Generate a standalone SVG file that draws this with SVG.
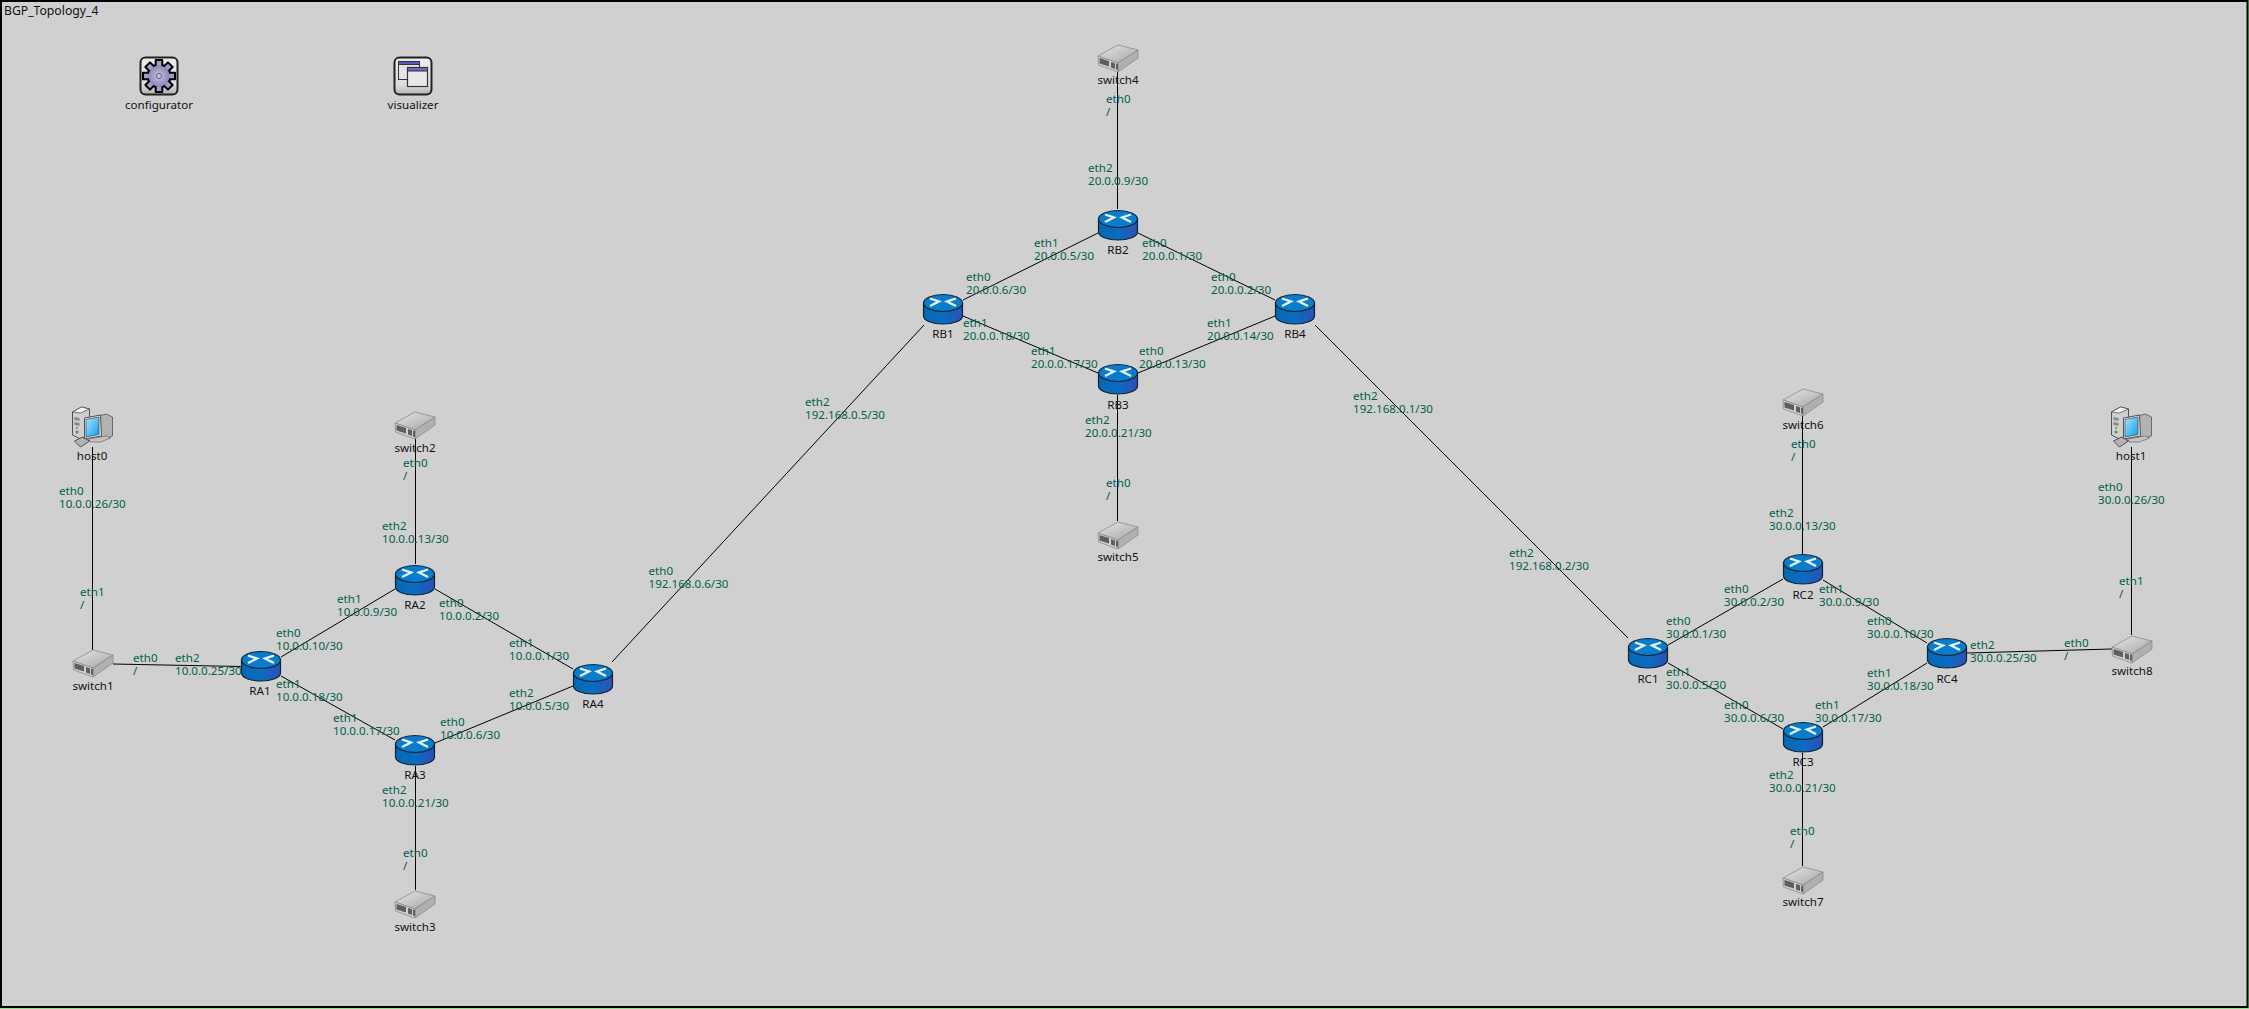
<svg xmlns="http://www.w3.org/2000/svg" width="2249" height="1009" viewBox="0 0 2249 1009">
<style>
text{font-family:"Noto Sans","DejaVu Sans",sans-serif;font-size:11.6px}
.n{fill:#111;text-anchor:middle}
.l{fill:#00604a}
#links line{stroke:#000;stroke-width:1}
</style>
<defs>
<linearGradient id="rb" x1="0" x2="1" y1="0" y2="0"><stop offset="0" stop-color="#0668b4"/><stop offset=".5" stop-color="#0a6cc0"/><stop offset="1" stop-color="#2d50b8"/></linearGradient>
<linearGradient id="sw" x1="0" x2="1" y1="0" y2="1"><stop offset="0" stop-color="#e8e8e8"/><stop offset="1" stop-color="#a4a4a4"/></linearGradient>
<linearGradient id="ic" x1="0" x2="0" y1="0" y2="1"><stop offset="0" stop-color="#ececec"/><stop offset=".75" stop-color="#dcdcdc"/><stop offset="1" stop-color="#b0b0b0"/></linearGradient>
<linearGradient id="scr" x1="0" x2="1" y1="0" y2="1"><stop offset="0" stop-color="#a8e4ff"/><stop offset="1" stop-color="#0c9ee8"/></linearGradient>
<radialGradient id="gr"><stop offset="0" stop-color="#c4c2e4"/><stop offset="1" stop-color="#8a88b8"/></radialGradient>
<g id="router">
<path d="M-19.500-6V7C-19.500 11.500-10.500 15 0 15S19.500 11.500 19.500 7V-6Z" fill="url(#rb)" stroke="#10242e" stroke-width="1.200"/>
<ellipse cx="0" cy="-6" rx="19.500" ry="8.500" fill="#0a7ccc" stroke="#10242e" stroke-width="1.200"/>
<path d="M-13-10.500-4-7.500-13-3M13-10.500 4-7.500 13-3" fill="none" stroke="#e8f4fc" stroke-width="2.300"/>
</g>
<g id="switch">
<path d="M-20-2 0-13 20-8 0 5Z" fill="url(#sw)" stroke="#8a8a8a" stroke-width=".8"/>
<path d="M0 5 20-8V0L0 14Z" fill="#b0b0b0" stroke="#8a8a8a" stroke-width=".8"/>
<path d="M-20-2 0 5V14L-19.500 7Z" fill="#cfcfcf" stroke="#8a8a8a" stroke-width=".8"/>
<path d="M-18.500 0-9 3V8.500L-18.500 5.500ZM-7 4-3 5.200V11L-7 9.500ZM-2 5.500 0 6V12L-2 11.400Z" fill="#5e5e5e"/>
</g>
<g id="host">
<path d="M6-11 14-13 20-10V9L12 12 6 10Z" fill="#b2b2b2" stroke="#555" stroke-width=".8"/>
<path d="M-20-15-11-20-3-18V8L-12 12-20 8Z" fill="#cfcfcf" stroke="#444" stroke-width=".9"/>
<path d="M-20-15-11-20-3-18-12-14Z" fill="#f2f2f2" stroke="#444" stroke-width=".7"/>
<path d="M-18-10-13-9V-6L-18-7ZM-18-5-13-4V-1L-18-2Z" fill="#8a8a8a"/>
<circle cx="-15.500" cy="5" r="1.500" fill="#2fa84a"/>
<circle cx="-15.500" cy="1" r="1" fill="#c86a2a"/>
<path d="M-8-9 8-12 9 9-8 12Z" fill="#e2e2e2" stroke="#444" stroke-width=".9"/>
<path d="M-6.500-7.500 6.500-10V7.500L-6.500 10Z" fill="url(#scr)" stroke="#333" stroke-width=".6"/>
<path d="M-4 12 14 9 18 11 8 15-2 15Z" fill="#c4c4c4" stroke="#666" stroke-width=".7"/>
<path d="M-18 14-10 10-3 14-12 20Z" fill="#b4b4b4" stroke="#333" stroke-width=".8"/>
</g>
<rect id="tooth" x="-3.300" y="-16" width="6.600" height="7" fill="#a09ecb" stroke="#000" stroke-width="2" stroke-linejoin="round"/>
<g id="gear">
<circle r="11.500" fill="#a09ecb" stroke="#000" stroke-width="2"/>
<use href="#tooth"/><use href="#tooth" transform="rotate(45)"/><use href="#tooth" transform="rotate(90)"/><use href="#tooth" transform="rotate(135)"/><use href="#tooth" transform="rotate(180)"/><use href="#tooth" transform="rotate(225)"/><use href="#tooth" transform="rotate(270)"/><use href="#tooth" transform="rotate(315)"/>
<circle r="10.500" fill="url(#gr)"/>
<circle r="2.500" fill="#c8c8d8" stroke="#666" stroke-width="1"/>
</g>
</defs>
<rect x="0" y="0" width="2249" height="1009" fill="#90e090"/>
<rect x="1" y="1" width="2246.500" height="1006" fill="#d0d0d0" stroke="#000" stroke-width="2"/>
<text id="title" x="4" y="14.500" style="font-size:12.200px;fill:#111">BGP_Topology_4</text>
<g id="links">
<line x1="92.500" y1="447" x2="92.500" y2="650"/>
<line x1="113" y1="664" x2="241" y2="666.500"/>
<line x1="415.500" y1="439" x2="415.500" y2="564"/>
<line x1="281" y1="657" x2="395" y2="589"/>
<line x1="281" y1="676" x2="395" y2="740"/>
<line x1="435" y1="589" x2="573" y2="669"/>
<line x1="435" y1="743" x2="573" y2="686"/>
<line x1="415.500" y1="766" x2="415.500" y2="890"/>
<line x1="612" y1="662" x2="924" y2="325"/>
<line x1="963" y1="300" x2="1098" y2="233"/>
<line x1="1138" y1="233" x2="1275" y2="300"/>
<line x1="963" y1="316" x2="1098" y2="373"/>
<line x1="1138" y1="373" x2="1275" y2="316"/>
<line x1="1117.500" y1="71" x2="1117.500" y2="209"/>
<line x1="1117.500" y1="395" x2="1117.500" y2="521"/>
<line x1="1315" y1="325" x2="1628" y2="638"/>
<line x1="1668" y1="645" x2="1783" y2="579"/>
<line x1="1823" y1="580" x2="1927" y2="643"/>
<line x1="1668" y1="663" x2="1783" y2="729"/>
<line x1="1823" y1="727" x2="1927" y2="663"/>
<line x1="1802.500" y1="416" x2="1802.500" y2="554"/>
<line x1="1802.500" y1="753" x2="1802.500" y2="866"/>
<line x1="1967" y1="653" x2="2112" y2="649"/>
<line x1="2131.500" y1="447" x2="2131.500" y2="635"/>
</g>
<g id="configurator"><rect x="140.500" y="57.500" width="37" height="37" rx="5" fill="url(#ic)" stroke="#222" stroke-width="2"/><use href="#gear" x="159" y="76"/><text x="159" y="109" class="n">configurator</text></g>
<g id="visualizer"><rect x="394.500" y="57.500" width="37" height="37" rx="5" fill="url(#ic)" stroke="#222" stroke-width="2"/><rect x="398.500" y="61.500" width="21" height="18" fill="#e4e4e4" stroke="#333" stroke-width="1"/><rect x="398.500" y="61.500" width="21" height="3" fill="#5a5ac0" stroke="#333" stroke-width="1"/><rect x="407.500" y="67.500" width="20" height="19" fill="#e8e8e8" stroke="#333" stroke-width="1.200"/><rect x="407.500" y="67.500" width="20" height="3.500" fill="#6a6ac4" stroke="#333" stroke-width="1"/><text x="413" y="109" class="n">visualizer</text></g>
<g id="host0"><use href="#host" x="92.500" y="427"/><text x="92" y="460" class="n">host0</text></g>
<g id="switch1"><use href="#switch" x="93" y="663"/><text x="93" y="690" class="n">switch1</text></g>
<g id="switch2"><use href="#switch" x="415" y="425"/><text x="415" y="452" class="n">switch2</text></g>
<g id="switch3"><use href="#switch" x="415" y="904"/><text x="415" y="931" class="n">switch3</text></g>
<g id="switch4"><use href="#switch" x="1118" y="58"/><text x="1118" y="84" class="n">switch4</text></g>
<g id="switch5"><use href="#switch" x="1118" y="535"/><text x="1118" y="561" class="n">switch5</text></g>
<g id="switch6"><use href="#switch" x="1803" y="402"/><text x="1803" y="428.500" class="n">switch6</text></g>
<g id="switch7"><use href="#switch" x="1803" y="880"/><text x="1803" y="906" class="n">switch7</text></g>
<g id="switch8"><use href="#switch" x="2132" y="649"/><text x="2132" y="675" class="n">switch8</text></g>
<g id="host1"><use href="#host" x="2131.500" y="427"/><text x="2131" y="460" class="n">host1</text></g>
<g id="RA1"><use href="#router" x="261" y="666"/><text x="260" y="695" class="n">RA1</text></g>
<g id="RA2"><use href="#router" x="415" y="580"/><text x="415" y="609" class="n">RA2</text></g>
<g id="RA3"><use href="#router" x="415" y="750"/><text x="415" y="778.500" class="n">RA3</text></g>
<g id="RA4"><use href="#router" x="593" y="679"/><text x="593" y="708" class="n">RA4</text></g>
<g id="RB1"><use href="#router" x="943" y="309"/><text x="943" y="338" class="n">RB1</text></g>
<g id="RB2"><use href="#router" x="1118" y="225"/><text x="1118" y="254" class="n">RB2</text></g>
<g id="RB3"><use href="#router" x="1118" y="379"/><text x="1118" y="408.500" class="n">RB3</text></g>
<g id="RB4"><use href="#router" x="1295" y="309"/><text x="1295" y="338" class="n">RB4</text></g>
<g id="RC1"><use href="#router" x="1648" y="653"/><text x="1648" y="682.500" class="n">RC1</text></g>
<g id="RC2"><use href="#router" x="1803" y="569"/><text x="1803" y="598.500" class="n">RC2</text></g>
<g id="RC3"><use href="#router" x="1803" y="737"/><text x="1803" y="765.500" class="n">RC3</text></g>
<g id="RC4"><use href="#router" x="1947" y="653"/><text x="1947" y="682.500" class="n">RC4</text></g>
<g id="labels" transform="translate(0,-0.700)">
<text class="l" x="59" y="496">eth0<tspan x="59" dy="13">10.0.0.26/30</tspan></text>
<text class="l" x="80" y="597">eth1<tspan x="80" dy="13">/</tspan></text>
<text class="l" x="133" y="663">eth0<tspan x="133" dy="13">/</tspan></text>
<text class="l" x="175" y="663">eth2<tspan x="175" dy="13">10.0.0.25/30</tspan></text>
<text class="l" x="276" y="638">eth0<tspan x="276" dy="13">10.0.0.10/30</tspan></text>
<text class="l" x="337" y="604">eth1<tspan x="337" dy="13">10.0.0.9/30</tspan></text>
<text class="l" x="382" y="531">eth2<tspan x="382" dy="13">10.0.0.13/30</tspan></text>
<text class="l" x="403" y="468">eth0<tspan x="403" dy="13">/</tspan></text>
<text class="l" x="276" y="689">eth1<tspan x="276" dy="13">10.0.0.18/30</tspan></text>
<text class="l" x="333" y="723">eth1<tspan x="333" dy="13">10.0.0.17/30</tspan></text>
<text class="l" x="440" y="727">eth0<tspan x="440" dy="13">10.0.0.6/30</tspan></text>
<text class="l" x="509" y="698">eth2<tspan x="509" dy="13">10.0.0.5/30</tspan></text>
<text class="l" x="509" y="648">eth1<tspan x="509" dy="13">10.0.0.1/30</tspan></text>
<text class="l" x="439" y="608">eth0<tspan x="439" dy="13">10.0.0.2/30</tspan></text>
<text class="l" x="382" y="795">eth2<tspan x="382" dy="13">10.0.0.21/30</tspan></text>
<text class="l" x="403" y="858">eth0<tspan x="403" dy="13">/</tspan></text>
<text class="l" x="648.500" y="576">eth0<tspan x="648.500" dy="13">192.168.0.6/30</tspan></text>
<text class="l" x="805" y="407">eth2<tspan x="805" dy="13">192.168.0.5/30</tspan></text>
<text class="l" x="1106" y="104">eth0<tspan x="1106" dy="13">/</tspan></text>
<text class="l" x="1088" y="173">eth2<tspan x="1088" dy="13">20.0.0.9/30</tspan></text>
<text class="l" x="1034" y="248">eth1<tspan x="1034" dy="13">20.0.0.5/30</tspan></text>
<text class="l" x="1142" y="248">eth0<tspan x="1142" dy="13">20.0.0.1/30</tspan></text>
<text class="l" x="966" y="282">eth0<tspan x="966" dy="13">20.0.0.6/30</tspan></text>
<text class="l" x="1211" y="282">eth0<tspan x="1211" dy="13">20.0.0.2/30</tspan></text>
<text class="l" x="963" y="328">eth1<tspan x="963" dy="13">20.0.0.18/30</tspan></text>
<text class="l" x="1207" y="328">eth1<tspan x="1207" dy="13">20.0.0.14/30</tspan></text>
<text class="l" x="1031" y="356">eth1<tspan x="1031" dy="13">20.0.0.17/30</tspan></text>
<text class="l" x="1139" y="356">eth0<tspan x="1139" dy="13">20.0.0.13/30</tspan></text>
<text class="l" x="1085" y="425">eth2<tspan x="1085" dy="13">20.0.0.21/30</tspan></text>
<text class="l" x="1106" y="488">eth0<tspan x="1106" dy="13">/</tspan></text>
<text class="l" x="1353" y="401">eth2<tspan x="1353" dy="13">192.168.0.1/30</tspan></text>
<text class="l" x="1509" y="558">eth2<tspan x="1509" dy="13">192.168.0.2/30</tspan></text>
<text class="l" x="1769" y="518">eth2<tspan x="1769" dy="13">30.0.0.13/30</tspan></text>
<text class="l" x="1791" y="449">eth0<tspan x="1791" dy="13">/</tspan></text>
<text class="l" x="1724" y="594">eth0<tspan x="1724" dy="13">30.0.0.2/30</tspan></text>
<text class="l" x="1819" y="594">eth1<tspan x="1819" dy="13">30.0.0.9/30</tspan></text>
<text class="l" x="1666" y="626">eth0<tspan x="1666" dy="13">30.0.0.1/30</tspan></text>
<text class="l" x="1867" y="626">eth0<tspan x="1867" dy="13">30.0.0.10/30</tspan></text>
<text class="l" x="1970" y="650">eth2<tspan x="1970" dy="13">30.0.0.25/30</tspan></text>
<text class="l" x="1666" y="677">eth1<tspan x="1666" dy="13">30.0.0.5/30</tspan></text>
<text class="l" x="1867" y="678">eth1<tspan x="1867" dy="13">30.0.0.18/30</tspan></text>
<text class="l" x="1724" y="710">eth0<tspan x="1724" dy="13">30.0.0.6/30</tspan></text>
<text class="l" x="1815" y="710">eth1<tspan x="1815" dy="13">30.0.0.17/30</tspan></text>
<text class="l" x="1769" y="780">eth2<tspan x="1769" dy="13">30.0.0.21/30</tspan></text>
<text class="l" x="1790" y="836">eth0<tspan x="1790" dy="13">/</tspan></text>
<text class="l" x="2098" y="492">eth0<tspan x="2098" dy="13">30.0.0.26/30</tspan></text>
<text class="l" x="2119" y="586">eth1<tspan x="2119" dy="13">/</tspan></text>
<text class="l" x="2064" y="648">eth0<tspan x="2064" dy="13">/</tspan></text>
</g>
</svg>
